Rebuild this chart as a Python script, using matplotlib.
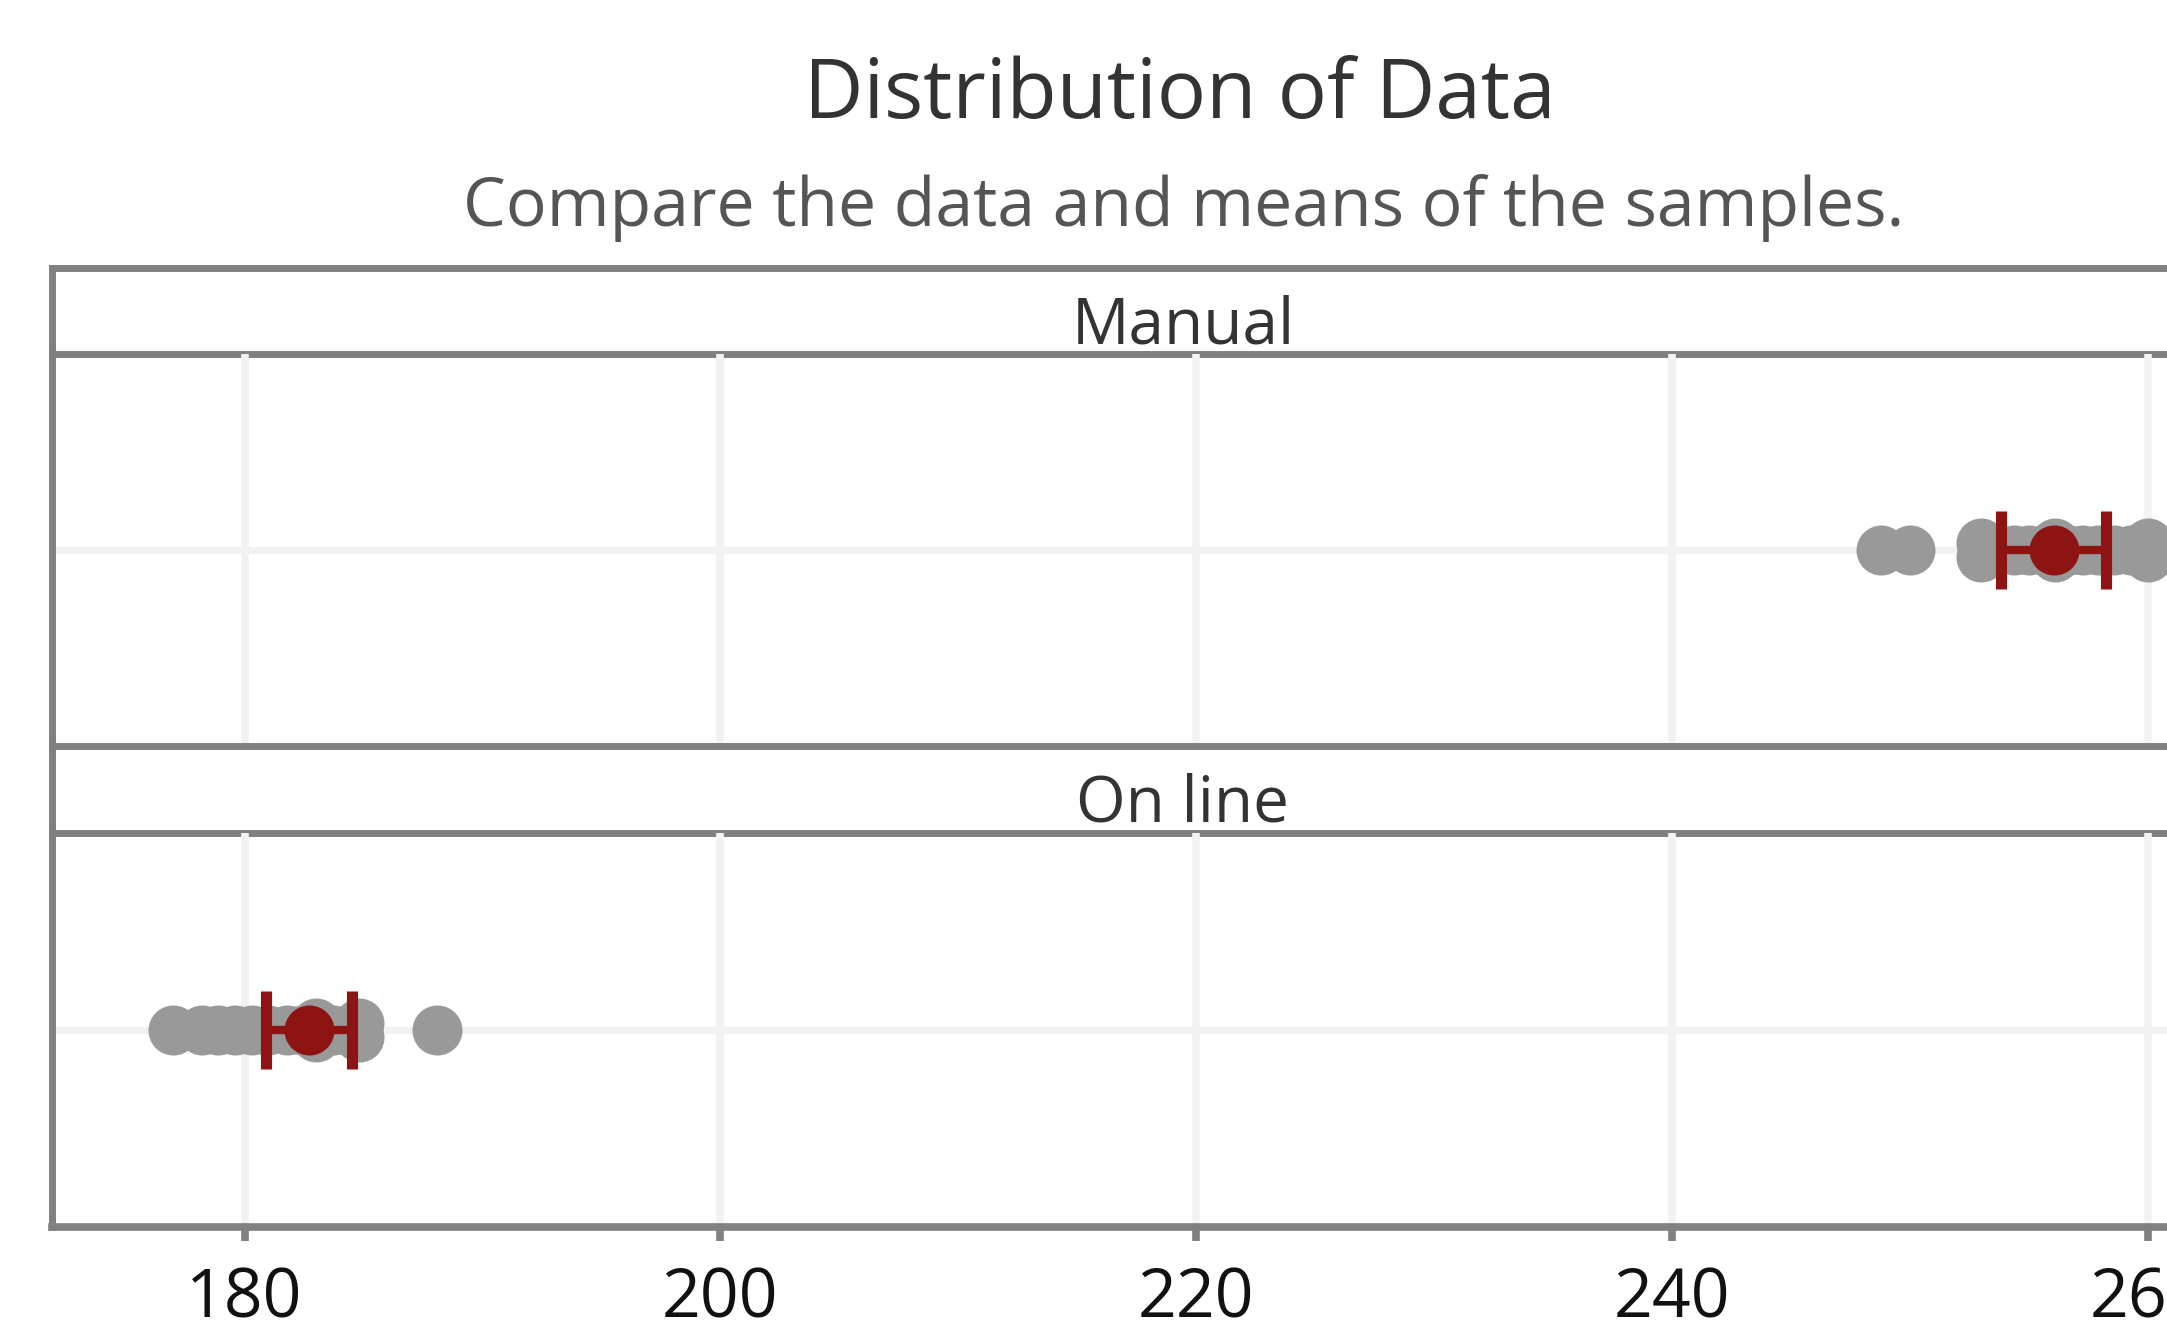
import numpy as np
import matplotlib.pyplot as plt

plt.rcParams['font.family'] = ['Open Sans', 'DejaVu Sans']

# data
groups = ['Manual', 'On line']
manual_vals = [248.8, 250.0, 253.0, 253.0, 253.7, 254.4, 255.0, 255.6, 256.1, 256.1,
               256.7, 257.3, 257.9, 258.6, 259.3, 260.0, 260.0, 261.0]
manual_jit = [0, 0, 0.021, -0.021, 0, 0, 0, 0, 0.021, -0.021,
              0, 0, 0, 0, 0, 0.021, -0.021, 0]
online_vals = [177.0, 178.2, 178.9, 179.6, 180.3, 181.0, 181.8, 182.4, 183.0, 183.0,
               183.7, 184.3, 184.8, 184.8, 188.1]
online_jit = [0, 0, 0, 0, 0, 0, 0, 0, 0.021, -0.021, 0, 0, 0.021, -0.021, 0]
means = [256.05, 182.7]
half_ci = [2.2, 1.8]
xticks = [180, 200, 220, 240, 260]

W, H = 2167, 1328
fig = plt.figure(figsize=(W / 100, H / 100), dpi=100)

def px_axes(left, top, right, bottom):
    a = fig.add_axes([left / W, 1 - bottom / H, (right - left) / W, (bottom - top) / H])
    a.patch.set_visible(False)
    return a

line_col = '#808080'
grid_col = '#F2F2F2'
red = '#8E1313'

fig.text(1180 / W, 1 - 118 / H, 'Distribution of Data', ha='center', va='baseline',
         fontsize=59, color='#333333')
fig.text(1184 / W, 1 - 226 / H, 'Compare the data and means of the samples.', ha='center',
         va='baseline', fontsize=49, color='#555555')

panels = [(268, 354, 746), (746, 833, 1227)]
series = [(manual_vals, manual_jit), (online_vals, online_jit)]
xlim = (171.9, 267.0)

for i, (grp, (st, pt, pb), (vals, jit)) in enumerate(zip(groups, panels, series)):
    # strip
    sax = px_axes(52, st, 2314, pt)
    sax.set_xlim(0, 1)
    sax.set_ylim(st, pt)
    sax.invert_yaxis()
    sax.set_xticks([])
    sax.set_yticks([])
    for s in ['top', 'bottom', 'left']:
        sax.spines[s].set_color(line_col)
        sax.spines[s].set_linewidth(5)
    sax.spines['right'].set_visible(False)
    sax.text(0.5, st + 76, grp, ha='center', va='baseline', fontsize=46, color='#333333')

    # panel
    ax = px_axes(52, pt, 2314, pb)
    ax.set_xlim(*xlim)
    ax.set_ylim(0.4, 1.6)
    ax.set_axisbelow(True)
    for x in xticks:
        ax.axvline(x, color=grid_col, lw=5.5, zorder=0)
    ax.axhline(1, color=grid_col, lw=5, zorder=0)
    ax.plot(vals, 1 + np.array(jit), 'o', ms=36, color='#999999', mew=0, zorder=2)
    ax.errorbar([means[i]], [1], xerr=[half_ci[i]], fmt='none', ecolor=red,
                elinewidth=6, capsize=28, capthick=8, zorder=3)
    ax.plot([means[i]], [1], 'o', ms=36, color=red, mew=0, zorder=4)
    ax.set_yticks([])
    for s in ['top', 'right', 'bottom']:
        ax.spines[s].set_visible(False)
    ax.spines['left'].set_color(line_col)
    ax.spines['left'].set_linewidth(5)
    if i == 1:
        ax.spines['bottom'].set_visible(True)
        ax.spines['bottom'].set_color(line_col)
        ax.spines['bottom'].set_linewidth(5.5)
        ax.set_xticks(xticks)
        ax.tick_params(axis='x', length=10, width=5.5, color=line_col, labelsize=49,
                       labelcolor='#111111', pad=18)
    else:
        ax.set_xticks([])

fig.savefig('out.png', dpi=100)
